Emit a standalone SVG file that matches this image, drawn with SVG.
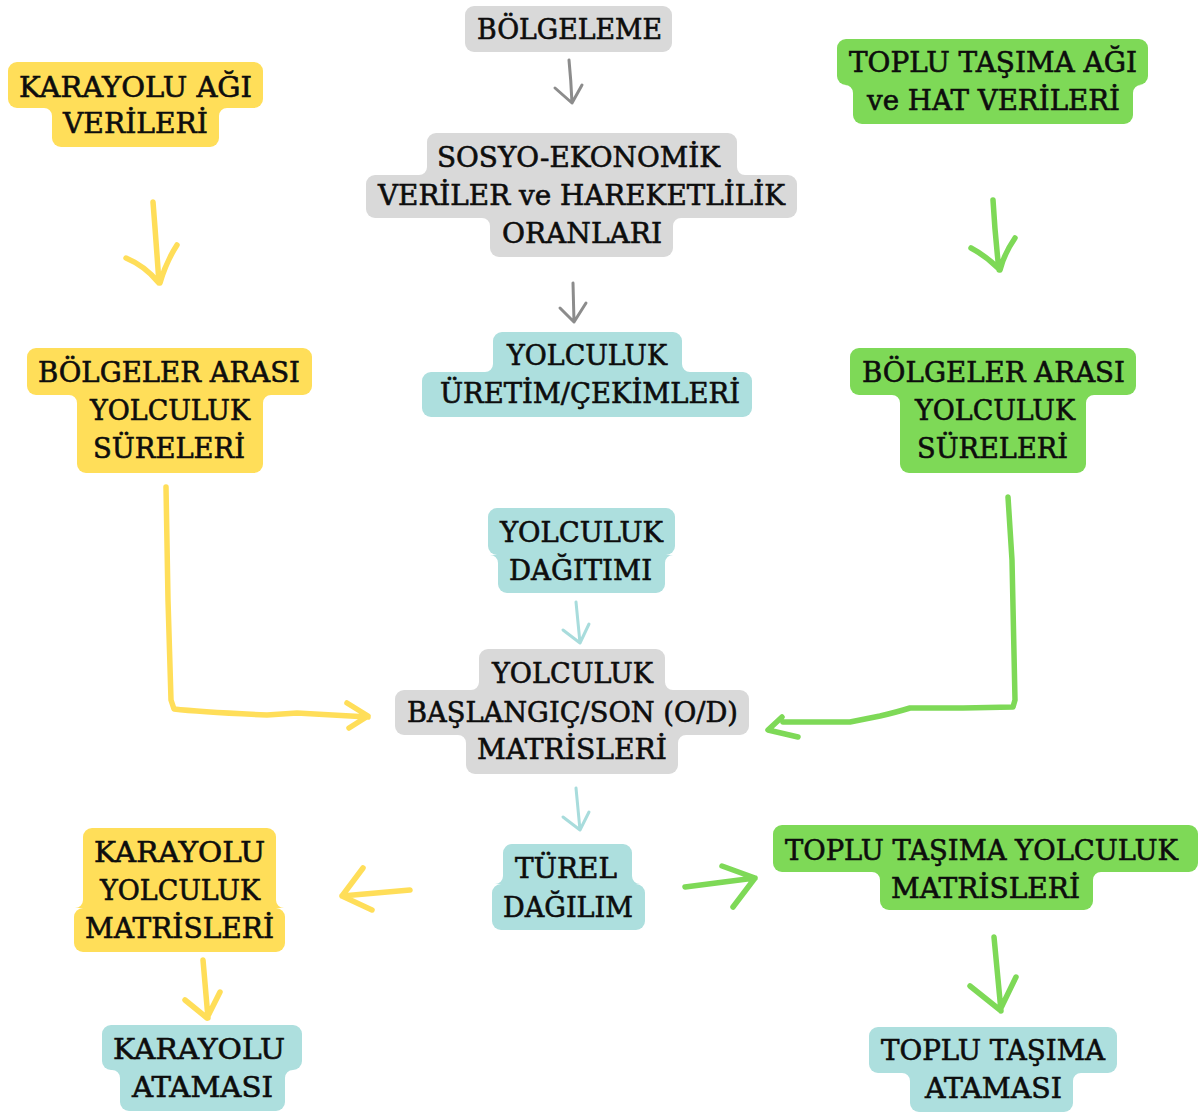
<svg xmlns="http://www.w3.org/2000/svg" width="1201" height="1113" viewBox="0 0 1201 1113">
<style>
.y{fill:#FFDE59}.g{fill:#7ED957}.t{fill:#ADDFDE}.gr{fill:#D9D9D9}
text{font-family:"DejaVu Serif","Liberation Serif",serif;font-size:27px;fill:#0d0d0d;stroke:#0d0d0d;stroke-width:0.6}
.c{fill:none;stroke-linecap:round;stroke-linejoin:round}
.cy{stroke:#FFDE59;stroke-width:5.5}.cg{stroke:#7ED957;stroke-width:5.5}.ct{stroke:#A8DCDC;stroke-width:3}.cgr{stroke:#8C8C8C;stroke-width:3}
</style>
<rect width="1201" height="1113" fill="#fff"/>
<g id="connectors" class="c">
<path class="cgr" d="M569,60 Q571,80 572,103 M555,88 L572,103 L582,85"/>
<path class="cgr" d="M573,283 L574,322 M560,308 L574,322 L586,303"/>
<path class="cy" d="M153,202 Q156,240 159,283 M126,258 Q145,266 158,282 M177,245 Q166,262 160,283"/>
<path class="cg" d="M993,200 Q995,235 999,270 M971,248 Q986,256 998,268 M1015,238 Q1004,254 1000,270"/>
<path class="cy" d="M166,487 L168,600 L171,700 L174,709 Q200,712 267,715 L297,713 L368,717 M347,703 L368,716 L349,728"/>
<path class="cg" d="M1008,497 L1012,560 L1015,700 L1013,707 L963,708 L910,708 Q897,712 880,716 L850,722 L783,722 M782,717 L768,730 L798,737"/>
<path class="ct" d="M576,602 L580,643 M563,630 L580,643 L589,624"/>
<path class="ct" d="M576,788 L580,830 M563,817 L580,830 L589,812"/>
<path class="cy" d="M410,890 L342,896 M363,868 L342,896 L372,910"/>
<path class="cg" d="M685,887 L755,878 M722,866 L755,878 L733,907"/>
<path class="cy" d="M203,960 L208,1018 M185,1000 L207,1018 L220,992"/>
<path class="cg" d="M994,937 L1001,1011 M970,986 L1000,1010 L1016,977"/>
</g>
<g id="karayolu-agi-verileri" class="y">
<rect x="8" y="62" width="255" height="46" rx="9"/><rect x="52" y="108" width="167" height="39" rx="9"/>
<rect x="52" y="98" width="167" height="20"/>
<path d="M52,116L52,108L44,108A8 8 0 0 1 52,116Z M219,116L219,108L227,108A8 8 0 0 0 219,116Z"/>
<text x="19" y="97" textLength="233" lengthAdjust="spacingAndGlyphs">KARAYOLU AĞI</text>
<text x="63" y="133" textLength="145" lengthAdjust="spacingAndGlyphs">VERİLERİ</text>
</g>
<g id="bolgeleme" class="gr">
<rect x="465" y="6" width="207" height="46" rx="9"/>
<text x="477" y="39" textLength="185" lengthAdjust="spacingAndGlyphs">BÖLGELEME</text>
</g>
<g id="sosyo-ekonomik" class="gr">
<rect x="427" y="133" width="310" height="42" rx="9"/><rect x="366" y="175" width="431" height="43" rx="9"/><rect x="490" y="218" width="183" height="39" rx="9"/>
<rect x="427" y="165" width="310" height="20"/><rect x="490" y="208" width="183" height="20"/>
<path d="M427,167L427,175L419,175A8 8 0 0 0 427,167Z M737,167L737,175L745,175A8 8 0 0 1 737,167Z M490,226L490,218L482,218A8 8 0 0 1 490,226Z M673,226L673,218L681,218A8 8 0 0 0 673,226Z"/>
<text x="437" y="167" textLength="283" lengthAdjust="spacingAndGlyphs">SOSYO-EKONOMİK</text>
<text x="378" y="205" textLength="407" lengthAdjust="spacingAndGlyphs">VERİLER ve HAREKETLİLİK</text>
<text x="502" y="243" textLength="160" lengthAdjust="spacingAndGlyphs">ORANLARI</text>
</g>
<g id="yolculuk-uretim" class="t">
<rect x="493" y="332" width="189" height="40" rx="9"/><rect x="422" y="372" width="330" height="45" rx="9"/>
<rect x="493" y="362" width="189" height="20"/>
<path d="M493,364L493,372L485,372A8 8 0 0 0 493,364Z M682,364L682,372L690,372A8 8 0 0 1 682,364Z"/>
<text x="507" y="365" textLength="160" lengthAdjust="spacingAndGlyphs">YOLCULUK</text>
<text x="440" y="403" textLength="300" lengthAdjust="spacingAndGlyphs">ÜRETİM/ÇEKİMLERİ</text>
</g>
<g id="toplu-tasima-agi" class="g">
<rect x="837" y="39" width="311" height="46" rx="9"/><rect x="853" y="85" width="280" height="39" rx="9"/>
<rect x="853" y="75" width="280" height="20"/>
<path d="M853,93L853,85L845,85A8 8 0 0 1 853,93Z M1133,93L1133,85L1141,85A8 8 0 0 0 1133,93Z"/>
<text x="849" y="72" textLength="288" lengthAdjust="spacingAndGlyphs">TOPLU TAŞIMA AĞI</text>
<text x="867" y="110" textLength="253" lengthAdjust="spacingAndGlyphs">ve HAT VERİLERİ</text>
</g>
<g id="karayolu-sureleri" class="y">
<rect x="27" y="348" width="285" height="47" rx="9"/><rect x="77" y="395" width="186" height="38" rx="9"/><rect x="77" y="433" width="186" height="40" rx="9"/>
<rect x="77" y="385" width="186" height="20"/><rect x="77" y="423" width="186" height="20"/>
<path d="M77,403L77,395L69,395A8 8 0 0 1 77,403Z M263,403L263,395L271,395A8 8 0 0 0 263,403Z"/>
<text x="38" y="382" textLength="262" lengthAdjust="spacingAndGlyphs">BÖLGELER ARASI</text>
<text x="90" y="420" textLength="160" lengthAdjust="spacingAndGlyphs">YOLCULUK</text>
<text x="93" y="458" textLength="152" lengthAdjust="spacingAndGlyphs">SÜRELERİ</text>
</g>
<g id="toplu-tasima-sureleri" class="g">
<rect x="850" y="348" width="286" height="47" rx="9"/><rect x="900" y="395" width="186" height="38" rx="9"/><rect x="900" y="433" width="186" height="40" rx="9"/>
<rect x="900" y="385" width="186" height="20"/><rect x="900" y="423" width="186" height="20"/>
<path d="M900,403L900,395L892,395A8 8 0 0 1 900,403Z M1086,403L1086,395L1094,395A8 8 0 0 0 1086,403Z"/>
<text x="862" y="382" textLength="263" lengthAdjust="spacingAndGlyphs">BÖLGELER ARASI</text>
<text x="915" y="420" textLength="160" lengthAdjust="spacingAndGlyphs">YOLCULUK</text>
<text x="917" y="458" textLength="151" lengthAdjust="spacingAndGlyphs">SÜRELERİ</text>
</g>
<g id="yolculuk-dagitimi" class="t">
<rect x="488" y="508" width="187" height="47" rx="9"/><rect x="498" y="555" width="167" height="38" rx="9"/>
<rect x="498" y="545" width="167" height="20"/>
<path d="M498,563L498,555L490,555A8 8 0 0 1 498,563Z M665,563L665,555L673,555A8 8 0 0 0 665,563Z"/>
<text x="500" y="542" textLength="163" lengthAdjust="spacingAndGlyphs">YOLCULUK</text>
<text x="509" y="580" textLength="143" lengthAdjust="spacingAndGlyphs">DAĞITIMI</text>
</g>
<g id="od-matrisleri" class="gr">
<rect x="479" y="649" width="186" height="41" rx="9"/><rect x="395" y="690" width="354" height="45" rx="9"/><rect x="466" y="735" width="212" height="39" rx="9"/>
<rect x="479" y="680" width="186" height="20"/><rect x="466" y="725" width="212" height="20"/>
<path d="M479,682L479,690L471,690A8 8 0 0 0 479,682Z M665,682L665,690L673,690A8 8 0 0 1 665,682Z M466,743L466,735L458,735A8 8 0 0 1 466,743Z M678,743L678,735L686,735A8 8 0 0 0 678,743Z"/>
<text x="492" y="683" textLength="161" lengthAdjust="spacingAndGlyphs">YOLCULUK</text>
<text x="407" y="722" textLength="331" lengthAdjust="spacingAndGlyphs">BAŞLANGIÇ/SON (O/D)</text>
<text x="477" y="759" textLength="190" lengthAdjust="spacingAndGlyphs">MATRİSLERİ</text>
</g>
<g id="turel-dagilim" class="t">
<rect x="503" y="844" width="129" height="40" rx="9"/><rect x="492" y="884" width="153" height="46" rx="9"/>
<rect x="503" y="874" width="129" height="20"/>
<path d="M503,876L503,884L495,884A8 8 0 0 0 503,876Z M632,876L632,884L640,884A8 8 0 0 1 632,876Z"/>
<text x="515" y="878" textLength="102" lengthAdjust="spacingAndGlyphs">TÜREL</text>
<text x="503" y="917" textLength="130" lengthAdjust="spacingAndGlyphs">DAĞILIM</text>
</g>
<g id="karayolu-matrisleri" class="y">
<rect x="83" y="828" width="193" height="42" rx="9"/><rect x="83" y="870" width="193" height="38" rx="9"/><rect x="74" y="908" width="211" height="44" rx="9"/>
<rect x="83" y="860" width="193" height="20"/><rect x="83" y="898" width="193" height="20"/>
<path d="M83,900L83,908L75,908A8 8 0 0 0 83,900Z M276,900L276,908L284,908A8 8 0 0 1 276,900Z"/>
<text x="94" y="862" textLength="171" lengthAdjust="spacingAndGlyphs">KARAYOLU</text>
<text x="100" y="900" textLength="160" lengthAdjust="spacingAndGlyphs">YOLCULUK</text>
<text x="85" y="938" textLength="189" lengthAdjust="spacingAndGlyphs">MATRİSLERİ</text>
</g>
<g id="karayolu-atamasi" class="t">
<rect x="102" y="1025" width="200" height="45" rx="9"/><rect x="120" y="1070" width="165" height="41" rx="9"/>
<rect x="120" y="1060" width="165" height="20"/>
<path d="M120,1078L120,1070L112,1070A8 8 0 0 1 120,1078Z M285,1078L285,1070L293,1070A8 8 0 0 0 285,1078Z"/>
<text x="113" y="1059" textLength="172" lengthAdjust="spacingAndGlyphs">KARAYOLU</text>
<text x="132" y="1097" textLength="141" lengthAdjust="spacingAndGlyphs">ATAMASI</text>
</g>
<g id="toplu-tasima-matrisleri" class="g">
<rect x="773" y="825" width="425" height="47" rx="9"/><rect x="880" y="872" width="213" height="38" rx="9"/>
<rect x="880" y="862" width="213" height="20"/>
<path d="M880,880L880,872L872,872A8 8 0 0 1 880,880Z M1093,880L1093,872L1101,872A8 8 0 0 0 1093,880Z"/>
<text x="785" y="860" textLength="393" lengthAdjust="spacingAndGlyphs">TOPLU TAŞIMA YOLCULUK</text>
<text x="891" y="898" textLength="189" lengthAdjust="spacingAndGlyphs">MATRİSLERİ</text>
</g>
<g id="toplu-tasima-atamasi" class="t">
<rect x="869" y="1027" width="248" height="46" rx="9"/><rect x="910" y="1073" width="163" height="39" rx="9"/>
<rect x="910" y="1063" width="163" height="20"/>
<path d="M910,1081L910,1073L902,1073A8 8 0 0 1 910,1081Z M1073,1081L1073,1073L1081,1073A8 8 0 0 0 1073,1081Z"/>
<text x="881" y="1060" textLength="224" lengthAdjust="spacingAndGlyphs">TOPLU TAŞIMA</text>
<text x="925" y="1098" textLength="137" lengthAdjust="spacingAndGlyphs">ATAMASI</text>
</g>
</svg>
